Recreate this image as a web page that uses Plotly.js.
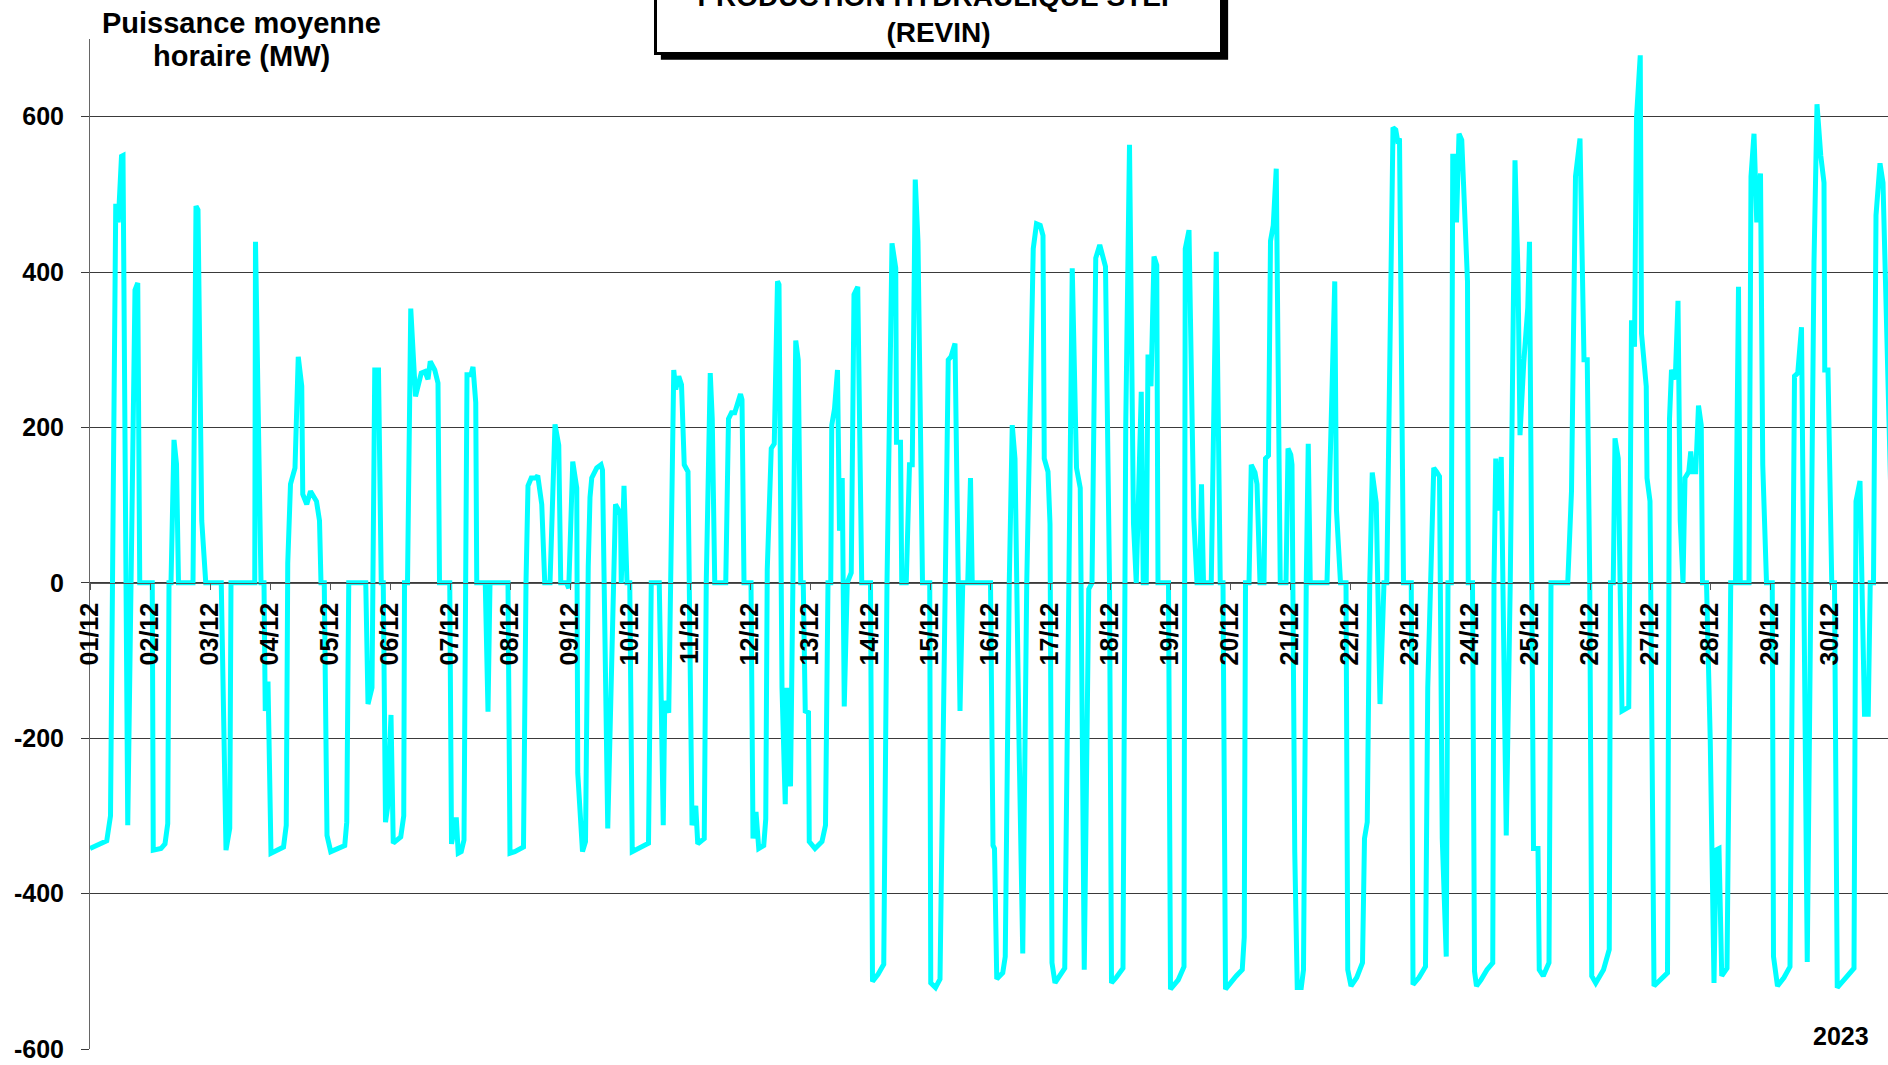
<!DOCTYPE html>
<html>
<head>
<meta charset="utf-8">
<script src="https://cdn.plot.ly/plotly-3.0.1.min.js"></script>
<style>
html,body{margin:0;padding:0;background:#ffffff;overflow:hidden;}
#chart{width:1888px;height:1065px;}
</style>
</head>
<body>
<div id="chart"></div>
<script>
// ---- Data (hours since 01/12 00:00, mean hourly power in MW) ----
const hours = [
0,6.7,8.2,10.3,11.3,12.6,13.2,15.1,18,19.1,19.9,24.9,25.3,28.4,30,31.1,31.6,32.4,33.6,34.6,35.4,41.2,42.4,43.2,44.7,46.3,52.5,54.4,55.9,56.4,65.9,66.2,68.4,69.6,70.1,71.2,72.4,77.4,78.5,79.1,80.2,82,83.3,84.7,85.1,86.7,88.2,90.6,91.8,92.4,93.7,94.8,96.3,101.9,102.7,103.5,110.3,111.2,112.8,113.9,115.4,116.5,117.3,118.2,119.0,120.4,121.3,124.3,125.5,125.8,127,128.3,130.2,131.3,132.5,134,135.2,136.1,137.9,139.2,139.8,143.9,144.6,146.5,147.3,148.5,149.6,150.8,152.4,153.2,154.3,154.7,158.1,159.2,160,167.2,168,169.9,173.4,174.4,175.2,176.5,178.3,179.1,180.7,181.9,184,186,187.5,188.3,190.6,191.5,193.1,194.7,195.1,197,198.2,199.3,200,200.7,202.7,204.4,205,207.1,210.2,212.2,212.5,213.6,214.8,215.9,216.9,223.4,224.5,227.7,229.3,229.9,231.5,233.5,234.3,235.5,236.6,237.7,239.2,
240.8,242.3,243.1,245.7,246.5,248.1,248.9,249.9,254.3,255.4,256.6,257.9,260.2,260.8,261.6,264.4,265.2,266.4,267.5,269.5,270.3,270.9,272.5,273.7,275,275.6,276.8,278.1,278.7,280.2,282.3,283.3,284.3,285.3,286.1,287.4,287.7,290,292.8,294.2,295.2,296.3,296.7,297.8,299,299.8,300.9,301.7,302.9,304.5,305.6,307.1,308.7,312.2,313,315.2,317.5,318.8,320.8,322.3,322.6,324.2,324.7,326.5,327.8,328.9,330.1,331.2,333,335.9,336.3,338.2,340,342.1,343.3,344.4,346,348,349.1,351.1,352.2,352.9,360.2,361.2,361.8,362.7,365.1,366.1,366.9,367.7,368.9,370,371.6,373.1,374.7,376.2,377.3,378.6,380.1,381.2,381.7,383.2,384,384.8,386,389.9,391.8,392.9,394.6,396.1,397.7,399.5,400.8,402.3,403.9,406.2,407.8,408.6,410.5,413.2,414.3,415.8,417.4,418.5,420.5,421.3,422.5,423.2,424.4,425.6,426.7,427.2,431.4,432.2,435.3,437.6,438.1,439.6,441.5,442.8,443.9,444.6,445.4,448.5,450.5,452.1,453.2,454.2,458.5,460.9,461.7,462.2,463.6,464.5,466,466.8,468,469.6,470.2,471.4,472.2,473.3,474.5,475.6,476.1,478.4,479.2,480.3,
480.8,481.9,482.9,484.5,485.4,486.5,487.3,488.1,494.8,496.3,497.9,498.6,500.2,502.4,503.1,504.4,506.7,509,509.8,510.9,511.9,512.9,514.5,516,517.6,518.7,519.9,521.2,522.3,523,523.8,525.4,528.5,529.2,531.6,534.2,535.1,537.5,538.6,539.8,540.9,542.5,543.2,544.5,545.1,546.3,546.6,547.6,548.7,551,551.3,553,553.8,554.6,556.4,558.8,561.1,561.6,562.3,563.4,564.5,566.5,568.1,570,571.2,572,573.5,575.1,575.8,576.9,577.4,579.2,579.7,581.3,583.6,584.4,591.1,592.6,594.2,596,597.6,598.9,599.9,600.7,602.3,605.4,607.7,608.2,609.3,610,611.3,612.8,615.5,616.6,617.8,618.6,620.1,620.6,622.5,622.8,624,625.6,628,631,631.8,632.6,634.1,635.2,636.1,637.2,638,639.5,640.3,641,642.3,643.4,644.5,645,646.6,648.1,649.6,650.4,651.6,652.7,654.8,656.3,658.2,659.4,660.1,663.6,664.4,665.6,666.7,668.2,669.1,670.6,672.9,673.4,675,677.6,680,681.8,683.1,684.6,686.9,689.6,690.8,692.3,693.6,693.9,695.2,696.7,697.8,698.9,701.6,705.6,706.4,708,709.8,711.3,712.1,713.4,714.4,716,717.2,718.8,720.3
];
const power = [
-342,-332,-300,488,464,549,550,-312,377,386,0,0,-344,-342,-336,-310,0,0,184,153,0,0,485,480,80,0,0,-344,-316,0,0,439,0,0,-165,-127,-348,-340,-312,25,127,148,291,253,114,101,118,105,80,0,0,-325,-346,-338,-308,0,0,-156,-135,274,274,0,0,-308,-290,-170,-335,-327,-300,0,0,353,240,253,270,272,262,285,274,257,0,0,-336,-302,-348,-346,-331,268,268,278,232,0,0,-166,0,0,-348,-346,-340,0,125,135,135,138,101,0,0,204,177,0,0,-7,156,122,-245,-346,-333,21,110,135,148,152,145,-316,101,89,0,125,0,0,-346,-335,0,0,-312,-152,-167,274,249,266,255,152,143,
-312,-287,-336,-329,0,270,211,0,0,211,219,219,243,236,0,0,-329,-295,-342,-338,-304,17,173,179,388,384,-135,-285,-135,-262,312,287,0,0,-165,-167,-333,-342,-333,-312,0,0,203,224,274,67,135,-159,0,13,371,381,0,0,-513,-504,-491,0,437,405,181,181,0,0,152,152,519,439,0,0,-515,-521,-510,0,287,291,308,-165,0,0,135,0,0,-338,-342,-510,-502,-481,-135,0,203,160,-203,-477,0,236,430,462,460,447,160,143,76,-489,-515,-496,0,405,148,122,-498,-8,0,418,435,407,0,-515,-508,-496,203,564,76,0,246,0,0,294,253,420,409,0,0,-523,-511,-494,430,454,84,0,0,127,0,0,426,0,0,-523,-506,-498,-456,0,0,152,142,127,0,0,160,164,440,460,533,118,0,0,173,165,
152,-346,-521,-521,-498,0,179,0,0,186,388,93,0,0,-498,-519,-508,-489,-329,-308,0,142,103,-156,0,0,312,586,583,570,572,0,0,-517,-508,-494,-135,148,143,137,-329,-481,0,0,549,549,464,578,570,388,0,0,-500,-519,-511,-498,-489,0,160,93,162,-325,0,544,397,190,283,354,439,0,-342,-342,-498,-506,-489,0,0,118,523,572,287,287,0,-506,-515,-498,-472,0,0,186,160,-165,-160,338,304,599,679,321,253,135,105,-519,-511,-502,211,274,262,363,80,0,135,143,169,143,143,228,203,0,0,-203,-515,-344,-342,-506,-496,0,0,381,0,0,523,578,464,527,152,0,0,-481,-519,-508,-494,266,270,329,-488,413,616,550,515,274,274,0,0,-521,-511,-496,105,131,-169,-169,0,0,473,540,515,270,118
];
const dayLabels = ['01/12','02/12','03/12','04/12','05/12','06/12','07/12','08/12','09/12','10/12',
  '11/12','12/12','13/12','14/12','15/12','16/12','17/12','18/12','19/12','20/12',
  '21/12','22/12','23/12','24/12','25/12','26/12','27/12','28/12','29/12','30/12'];
const yTickValues = [-600,-400,-200,0,200,400,600];
const yTickLabels = ['-600','-400','-200','0','200','400','600'];
const titleLines = ['PRODUCTION HYDRAULIQUE STEP','(REVIN)'];
const yTitleLines = ['Puissance moyenne','horaire (MW)'];
const yearLabel = '2023';

// ---- Chart ----
const FONT = '"Liberation Sans", Arial, Helvetica, sans-serif';
const Y_MIN = -600, Y_MAX = 700;
const X_MAX = 719.2;

const trace = {
  type: 'scatter', mode: 'lines',
  x: hours, y: power,
  line: {color: '#00FFFF', width: 5},
  hoverinfo: 'skip'
};

const yTitleY = [1.0158, 0.9832];
const yTitleAnnotations = yTitleLines.map((t, i) => ({
  xref: 'paper', yref: 'paper', x: 0.0845, y: yTitleY[i], xanchor: 'center', yanchor: 'middle',
  text: t, showarrow: false,
  font: {family: FONT, size: 29, color: '#000', weight: 'bold'}
}));

const layout = {
  width: 1888, height: 1065,
  margin: {l: 90, r: 0, t: 39, b: 16, pad: 0},
  paper_bgcolor: '#ffffff', plot_bgcolor: '#ffffff',
  showlegend: false,
  xaxis: {
    range: [0, X_MAX],
    anchor: 'free',
    position: (0 - Y_MIN) / (Y_MAX - Y_MIN),
    tickvals: dayLabels.map((_, i) => i * 24),
    ticktext: dayLabels,
    tickangle: -90,
    ticks: 'outside', ticklen: 6, tickcolor: '#555', tickwidth: 1,
    ticklabelstandoff: 3,
    showline: true, linecolor: '#555', linewidth: 1,
    showgrid: false, zeroline: false,
    tickfont: {family: FONT, size: 25, color: '#000', weight: 'bold'}
  },
  xaxis2: {
    range: [0, X_MAX], overlaying: 'x', anchor: 'y', side: 'bottom',
    showline: true, linecolor: '#000', linewidth: 2,
    showticklabels: false, ticks: '', showgrid: false, zeroline: false
  },
  yaxis: {
    range: [Y_MIN, Y_MAX],
    tickvals: yTickValues, ticktext: yTickLabels,
    ticks: 'outside', ticklen: 8, tickcolor: '#3a3a3a', tickwidth: 1,
    ticklabelstandoff: 12,
    gridcolor: '#3a3a3a', gridwidth: 1,
    showline: true, linecolor: '#666', linewidth: 1,
    zeroline: false,
    tickfont: {family: FONT, size: 25, color: '#000', weight: 'bold'}
  },
  shapes: [
    // drop shadow of the title box
    {type: 'rect', xref: 'paper', yref: 'paper', layer: 'above',
     x0: 0.3175, x1: 0.633, y0: 0.9795, y1: 1.1,
     fillcolor: '#000', line: {width: 0}}
  ],
  annotations: yTitleAnnotations.concat([
    {
      xref: 'paper', yref: 'paper', x: 0.4719, y: 0.984, xanchor: 'center', yanchor: 'bottom',
      text: titleLines.join('<br>'), showarrow: false, align: 'center', width: 555,
      bgcolor: '#fff', bordercolor: '#000', borderwidth: 3, borderpad: 4,
      font: {family: FONT, size: 28, color: '#000', weight: 'bold'}
    },
    {
      xref: 'paper', yref: 'paper', x: 0.974, y: 0.0129, xanchor: 'center', yanchor: 'middle',
      text: yearLabel, showarrow: false,
      font: {family: FONT, size: 25, color: '#000', weight: 'bold'}
    }
  ])
};

Plotly.newPlot('chart', [trace], layout, {staticPlot: true, displayModeBar: false});
</script>
</body>
</html>
